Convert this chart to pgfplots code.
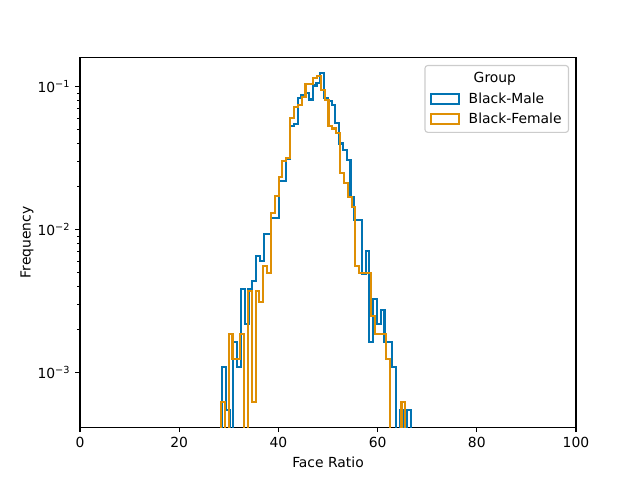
\documentclass[border=0pt]{standalone}
\usepackage{fontspec}
\setmainfont{DejaVu Sans}
\usepackage{pgfplots}
\pgfplotsset{compat=1.18}
\definecolor{cbblue}{RGB}{1,115,178}
\definecolor{cborange}{RGB}{222,143,5}
\begin{document}
\begin{tikzpicture}
\path[use as bounding box] (-57.6pt,-38.02pt) rectangle (403.2pt,307.58pt);
\begin{axis}[
  at={(0,0)}, anchor=south west,
  scale only axis, width=357.12pt, height=266.11pt,
  xmin=0, xmax=100, ymode=log, ymin=4.12e-4, ymax=0.16,
  xtick={0,20,40,60,80,100},
  ytick={1e-3,1e-2,1e-1},
  yticklabels={10\textsuperscript{−3},10\textsuperscript{−2},10\textsuperscript{−1}},
  /pgf/number format/assume math mode=true,
  tick align=outside, xtick pos=bottom, ytick pos=left,
  major tick length=3.5pt, minor tick length=2pt,
  every tick/.style={black, line width=0.8pt},
  minor tick style={line width=0.6pt},
  axis line style={line width=0.8pt},
  xlabel={Face Ratio}, ylabel={Frequency},
  ylabel shift=-4pt,
  tick label style={font=\fontsize{10}{12}\selectfont},
  label style={font=\fontsize{10}{12}\selectfont},
  legend style={at={(1,1)}, xshift=-5pt, yshift=-5.3pt, anchor=north east,
    draw=black!20, line width=0.8pt, rounded corners=2pt, fill=white, fill opacity=0.8, text opacity=1,
    font=\fontsize{10}{12}\selectfont, row sep=1.5pt, inner xsep=3pt, inner ysep=3pt},
  legend cell align=left,
]
\addlegendimage{empty legend}
\addlegendentry{\hspace{3.6pt}Group}
\addplot[const plot, cbblue, line width=1.5pt,
  legend image code/.code={\draw[cbblue, line width=1.5pt, sharp corners] (0pt,-3.5pt) rectangle (20pt,3.5pt); \path (-0.5pt,0pt) (24.5pt,0pt);}]
table {
28.630 1e-6
28.630 1.09e-3
29.392 5.45e-4
30.154 1e-6
30.916 1.635e-3
31.678 1.09e-3
32.440 3.815e-3
33.202 2.18e-3
33.964 3.815e-3
34.726 4.36e-3
35.488 6.54e-3
36.250 5.995e-3
37.012 9.265e-3
37.774 9.265e-3
38.536 1.199e-2
39.298 1.199e-2
40.060 2.18e-2
40.822 2.18e-2
41.584 3.1e-2
42.346 5.3e-2
43.108 5.5e-2
43.870 8.28e-2
44.632 8.8e-2
45.394 8.98e-2
46.156 8.14e-2
46.918 1.02e-1
47.680 1.06e-1
48.442 1.24e-1
49.204 8.28e-2
49.966 8.0e-2
50.728 7.44e-2
51.490 5.58e-2
52.252 4.0e-2
53.014 3.63e-2
53.776 3.09e-2
54.538 1.69e-2
55.300 1.16e-2
56.062 1.16e-2
56.824 4.905e-3
57.586 7.085e-3
58.348 1.635e-3
59.110 3.27e-3
59.872 2.18e-3
60.634 2.725e-3
61.396 1.635e-3
62.158 1.635e-3
62.920 1.09e-3
63.682 1e-6
64.444 5.45e-4
65.206 1e-6
65.968 5.45e-4
66.730 5.45e-4
66.730 1e-6
};
\addlegendentry{Black-Male}
\addplot[const plot, cborange, line width=1.5pt,
  legend image code/.code={\draw[cborange, line width=1.5pt, sharp corners] (0pt,-3.5pt) rectangle (20pt,3.5pt); \path (-0.5pt,0pt) (24.5pt,0pt);}]
table {
28.430 1e-6
28.430 6.17e-4
29.204 1e-6
29.978 1.851e-3
30.753 1.234e-3
31.527 1.234e-3
32.301 1.851e-3
33.075 1e-6
33.849 3.702e-3
34.624 6.17e-4
35.398 3.702e-3
36.172 3.085e-3
36.946 5.553e-3
37.720 4.936e-3
38.495 1.296e-2
39.269 1.728e-2
40.043 2.345e-2
40.817 3.023e-2
41.591 3.147e-2
42.366 6.0e-2
43.140 7.2e-2
43.914 7.5e-2
44.688 8.5e-2
45.462 1.04e-1
46.237 1.04e-1
47.011 1.155e-1
47.785 1.19e-1
48.559 9.47e-2
49.333 8.06e-2
50.108 5.3e-2
50.882 5.1e-2
51.656 4.75e-2
52.430 2.49e-2
53.204 2.12e-2
53.979 1.69e-2
54.753 1.44e-2
55.527 5.553e-3
56.301 4.936e-3
57.075 4.936e-3
57.850 4.936e-3
58.624 2.468e-3
59.398 1.851e-3
60.172 1.851e-3
60.946 1.851e-3
61.721 1.234e-3
62.495 1e-6
63.269 1e-6
64.043 1e-6
64.817 6.17e-4
65.592 6.17e-4
65.592 1e-6
};
\addlegendentry{Black-Female}
\end{axis}
\end{tikzpicture}
\end{document}
